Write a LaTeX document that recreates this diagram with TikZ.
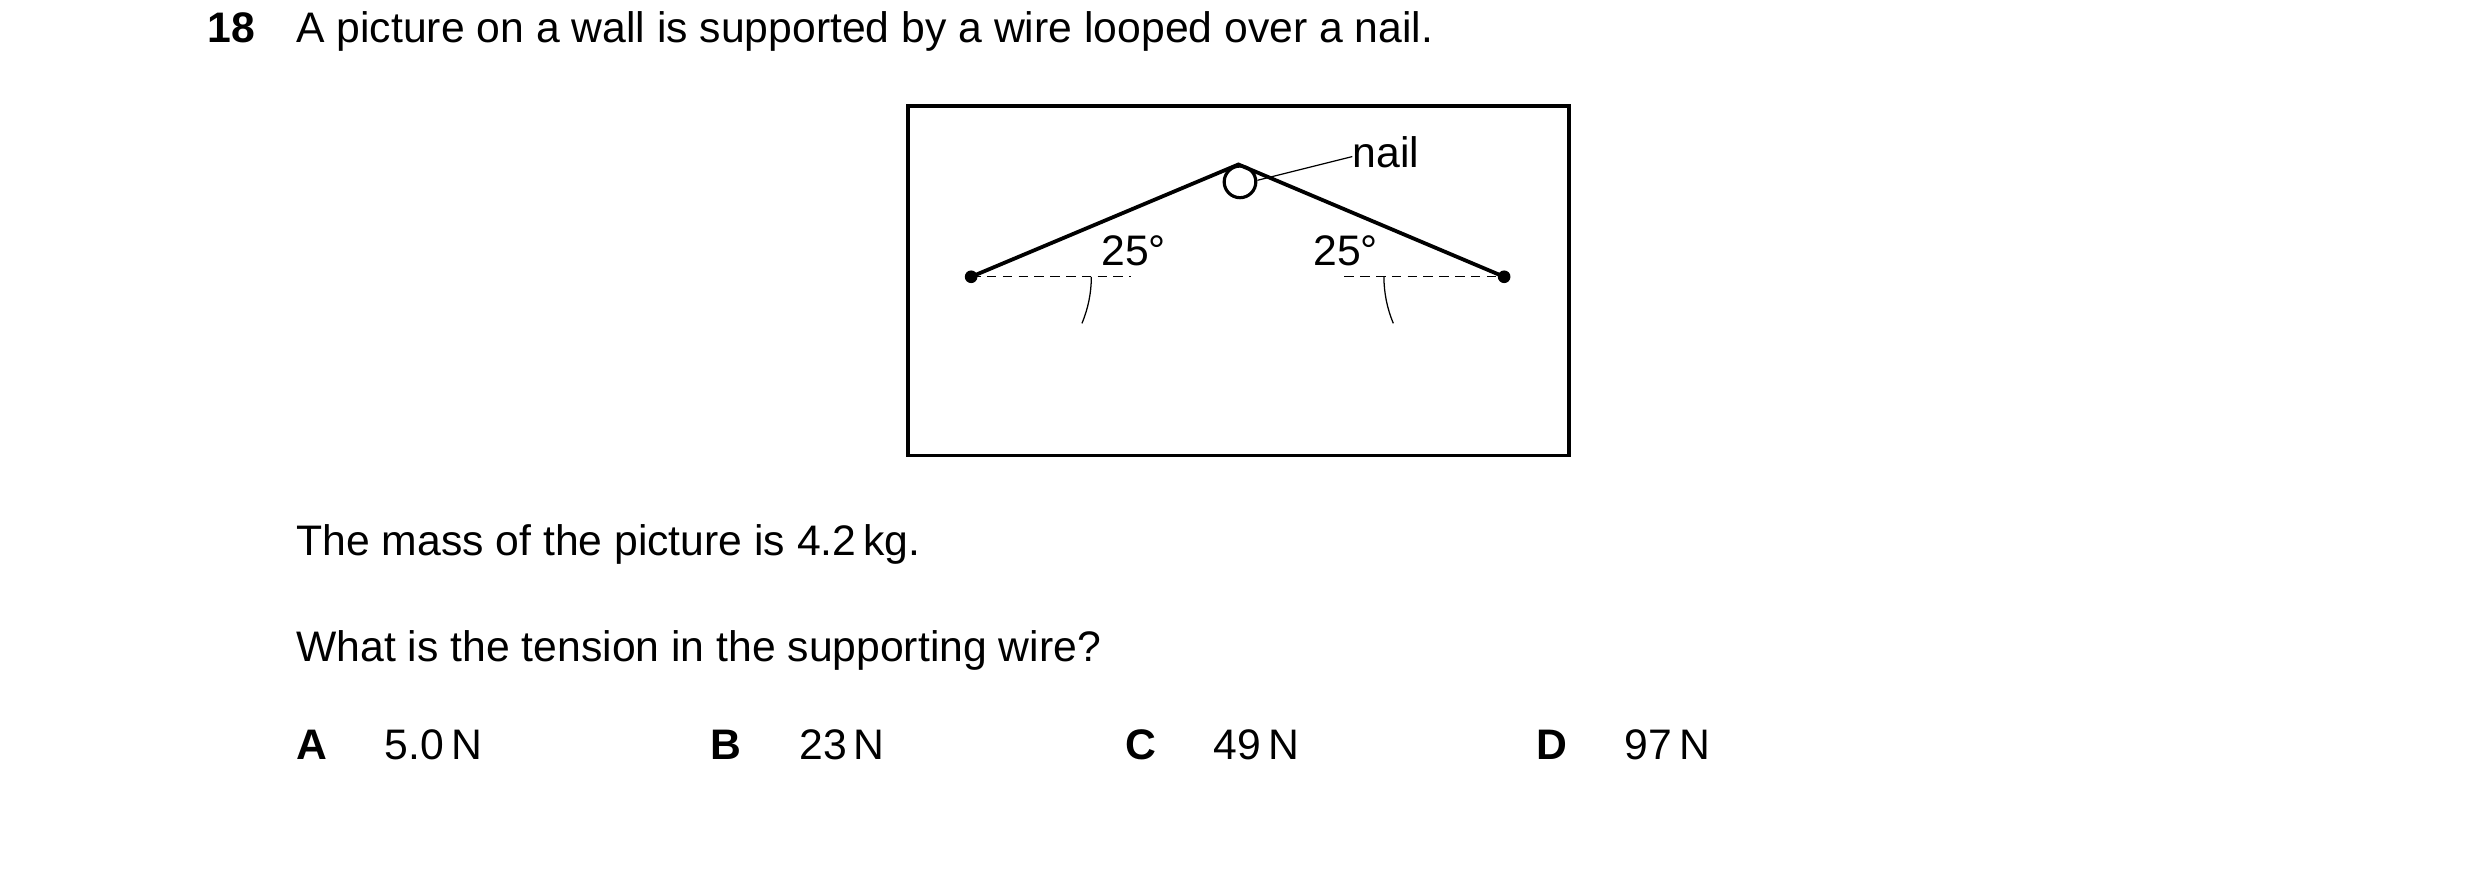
\documentclass[tikz,border=0pt]{standalone}
\usepackage{fontspec}
\setmainfont{Liberation Sans}
\usetikzlibrary{positioning}
\tikzset{
  txt/.style={anchor=base west,inner sep=0pt,font=\fontsize{13.5}{16}\selectfont},
  wire/.style={line width=1.2pt},
  dot/.style={circle,fill,inner sep=0pt,minimum size=4pt},
}
\begin{document}
\begin{tikzpicture}[x=0.5pt,y=-0.5pt]
	\useasboundingbox (0,0) rectangle (1568,555);
	% question text
	\node[txt,font=\fontsize{13.5}{16}\selectfont\bfseries] (num) at (131,27) {18};
	\node[txt] (q) at (187,27) {A picture on a wall is supported by a wire looped over a nail.};
	% picture frame
	\draw[line width=1.2pt] (574,67) rectangle (992,288);
	\node[dot] (L) at (614,175) {};
	\node[dot] (R) at (951,175) {};
	\node[circle,draw,line width=1pt,minimum size=10pt,inner sep=0pt] (nail) at (784,115) {};
	\coordinate (top) at (783,104);
	\draw[wire] (L.center) -- (top) -- (R.center);
	\draw[dash pattern=on 3pt off 2pt] (L.center) -- (715,175)
		(850,175) -- (R.center);
	\draw[thin] (690,175) arc (0:22.8:76);
	\draw[thin] (875,175) arc (180:157.2:76);
	\node[txt] (al) at (696,168) {25°};
	\node[txt] (ar) at (830,168) {25°};
	\node[txt] (lab) at (855,106) {nail};
	\draw[thin] (795,114) -- (lab.west |- 0,99);
	% data and options
	\node[txt] (m) at (187,351) {The mass of the picture is 4.2\,kg.};
	\node[txt] (t) at (187,418) {What is the tension in the supporting wire?};
	\foreach \l/\v/\x in {A/5.0\,N/187,B/23\,N/449,C/49\,N/711,D/97\,N/971}{
		\node[txt,font=\fontsize{13.5}{16}\selectfont\bfseries] (opt\l) at (\x,480) {\l};
		\node[txt] (val\l) at (\x+56,480) {\v};
	}
\end{tikzpicture}
\end{document}
